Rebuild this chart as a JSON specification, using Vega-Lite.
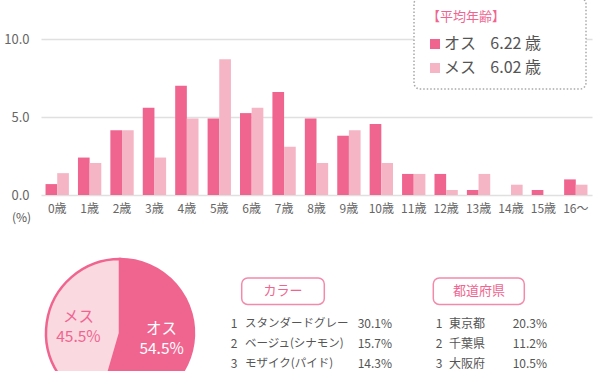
{
  "$schema": "https://vega.github.io/schema/vega-lite/v6.json",
  "padding": {"left": 3, "top": -3, "right": 0, "bottom": 0},
  "background": "white",
  "config": {"font": "Noto Sans CJK JP", "view": {"stroke": null}},
  "bounds": "flush",
  "spacing": 64,
  "resolve": {"scale": {"color": "independent"}},
  "datasets": {
    "ages": [
      {"age": "0歳", "sex": "オス", "pct": 0.7}, {"age": "0歳", "sex": "メス", "pct": 1.4},
      {"age": "1歳", "sex": "オス", "pct": 2.4}, {"age": "1歳", "sex": "メス", "pct": 2.05},
      {"age": "2歳", "sex": "オス", "pct": 4.15}, {"age": "2歳", "sex": "メス", "pct": 4.15},
      {"age": "3歳", "sex": "オス", "pct": 5.6}, {"age": "3歳", "sex": "メス", "pct": 2.4},
      {"age": "4歳", "sex": "オス", "pct": 7.0}, {"age": "4歳", "sex": "メス", "pct": 4.9},
      {"age": "5歳", "sex": "オス", "pct": 4.9}, {"age": "5歳", "sex": "メス", "pct": 8.7},
      {"age": "6歳", "sex": "オス", "pct": 5.25}, {"age": "6歳", "sex": "メス", "pct": 5.6},
      {"age": "7歳", "sex": "オス", "pct": 6.6}, {"age": "7歳", "sex": "メス", "pct": 3.1},
      {"age": "8歳", "sex": "オス", "pct": 4.9}, {"age": "8歳", "sex": "メス", "pct": 2.05},
      {"age": "9歳", "sex": "オス", "pct": 3.8}, {"age": "9歳", "sex": "メス", "pct": 4.15},
      {"age": "10歳", "sex": "オス", "pct": 4.55}, {"age": "10歳", "sex": "メス", "pct": 2.05},
      {"age": "11歳", "sex": "オス", "pct": 1.35}, {"age": "11歳", "sex": "メス", "pct": 1.35},
      {"age": "12歳", "sex": "オス", "pct": 1.35}, {"age": "12歳", "sex": "メス", "pct": 0.32},
      {"age": "13歳", "sex": "オス", "pct": 0.32}, {"age": "13歳", "sex": "メス", "pct": 1.35},
      {"age": "14歳", "sex": "オス", "pct": 0}, {"age": "14歳", "sex": "メス", "pct": 0.66},
      {"age": "15歳", "sex": "オス", "pct": 0.32}, {"age": "15歳", "sex": "メス", "pct": 0},
      {"age": "16〜", "sex": "オス", "pct": 1.0}, {"age": "16〜", "sex": "メス", "pct": 0.66}
    ],
    "sexes": [
      {"sex": "オス", "share": 0.545},
      {"sex": "メス", "share": 0.455}
    ],
    "colors": [
      {"rank": 1, "name": "スタンダードグレー", "pct": 0.301},
      {"rank": 2, "name": "ベージュ(シナモン)", "pct": 0.157},
      {"rank": 3, "name": "モザイク(パイド)", "pct": 0.143}
    ],
    "prefs": [
      {"rank": 1, "name": "東京都", "pct": 0.203},
      {"rank": 2, "name": "千葉県", "pct": 0.112},
      {"rank": 3, "name": "大阪府", "pct": 0.105}
    ]
  },
  "vconcat": [
    {
      "width": 551,
      "height": 156,
      "data": {"name": "ages"},
      "mark": {"type": "bar"},
      "encoding": {
        "x": {
          "field": "age", "type": "nominal", "sort": null,
          "scale": {"paddingInner": 0.28, "paddingOuter": 0.14},
          "axis": {"title": null, "labelAngle": 0, "domain": false, "ticks": false, "labelPadding": 8, "labelFontSize": 12, "labelColor": "#666666"}
        },
        "xOffset": {"field": "sex", "type": "nominal", "scale": {"paddingInner": 0, "paddingOuter": 0}},
        "y": {
          "field": "pct", "type": "quantitative",
          "scale": {"domain": [0, 10], "nice": false},
          "axis": {
            "values": [0, 5, 10], "format": ".1f", "domain": false, "ticks": false,
            "labelPadding": 12, "labelFontSize": 13, "labelColor": "#666666",
            "gridColor": "#e0e0e0", "gridWidth": 1.5,
            "title": "(%)", "titleAngle": 0, "titleX": -20, "titleY": 178,
            "titleAlign": "center", "titleBaseline": "middle", "titleFontSize": 12,
            "titleFontWeight": "normal", "titleColor": "#555555"
          }
        },
        "color": {
          "field": "sex", "type": "nominal",
          "scale": {"domain": ["オス", "メス"], "range": ["#f06590", "#f5b5c5"]},
          "legend": {
            "title": "【平均年齢】", "orient": "none", "legendX": 373, "legendY": -41,
            "padding": 13, "fillColor": "white", "strokeColor": "#a8a8a8",
            "cornerRadius": 6,
            "titleColor": "#f06590", "titleFontSize": 13, "titleFontWeight": "normal", "titlePadding": 12,
            "symbolType": "square", "symbolSize": 100, "symbolStrokeWidth": 0, "symbolOpacity": 1,
            "labelFontSize": 16, "labelColor": "#555555", "labelOffset": 1, "rowPadding": 8, "labelLimit": 300,
            "labelExpr": "datum.label === 'オス' ? 'オス\u00a0\u00a0\u00a0\u00a06.22 歳\u00a0\u00a0⠀⠀' : 'メス\u00a0\u00a0\u00a0\u00a06.02 歳\u00a0\u00a0⠀⠀'",
            "encode": {"legend": {"update": {"strokeDash": {"value": [1.5, 2]}, "strokeWidth": {"value": 1.5}}}}
          }
        }
      }
    },
    {
      "bounds": "flush",
      "spacing": 0,
      "hconcat": [
        {
          "width": 158,
          "height": 148,
          "data": {"name": "sexes"},
          "layer": [
            {
              "mark": {"type": "arc", "outerRadius": 74, "stroke": "#f06590", "strokeWidth": 2.5},
              "encoding": {
                "theta": {"field": "share", "type": "quantitative", "stack": true},
                "order": {"field": "sex", "type": "ordinal"},
                "color": {"field": "sex", "type": "nominal", "scale": {"domain": ["オス", "メス"], "range": ["#f06590", "#fbd9e1"]}, "legend": null}
              }
            },
            {
              "mark": {"type": "text", "radius": 42, "dy": -10, "fontSize": 15.5},
              "encoding": {
                "theta": {"field": "share", "type": "quantitative", "stack": true},
                "order": {"field": "sex", "type": "ordinal"},
                "detail": {"field": "sex", "type": "nominal"},
                "text": {"field": "sex", "type": "nominal"},
                "color": {"condition": {"test": "datum.sex === 'オス'", "value": "white"}, "value": "#f06590"}
              }
            },
            {
              "mark": {"type": "text", "radius": 42, "dy": 10, "fontSize": 15.5},
              "encoding": {
                "theta": {"field": "share", "type": "quantitative", "stack": true},
                "order": {"field": "sex", "type": "ordinal"},
                "detail": {"field": "sex", "type": "nominal"},
                "text": {"field": "share", "type": "quantitative", "format": ".1%"},
                "color": {"condition": {"test": "datum.sex === 'オス'", "value": "white"}, "value": "#f06590"}
              }
            }
          ]
        },
        {
          "width": 210,
          "height": 148,
          "layer": [
            {
              "data": {"values": [{"title": "カラー"}]},
              "mark": {"type": "rect", "cornerRadius": 6, "fill": "white", "stroke": "#f38aab", "strokeWidth": 1.5},
              "encoding": {
                "x": {"datum": 42.7, "type": "quantitative", "scale": {"domain": [0, 210]}, "axis": null},
                "x2": {"datum": 125.3},
                "y": {"datum": -1.25, "type": "quantitative", "scale": {"domain": [-2.18, 5.09], "reverse": true}, "axis": null},
                "y2": {"datum": 0.05}
              }
            },
            {
              "data": {"values": [{"title": "カラー"}]},
              "mark": {"type": "text", "fontSize": 13, "color": "#f06590"},
              "encoding": {
                "x": {"datum": 84, "type": "quantitative", "scale": {"domain": [0, 210]}, "axis": null},
                "y": {"datum": -0.6, "type": "quantitative", "scale": {"domain": [-2.18, 5.09], "reverse": true}, "axis": null},
                "text": {"field": "title", "type": "nominal"}
              }
            },
            {
              "data": {"name": "colors"},
              "mark": {"type": "text", "fontSize": 12, "color": "#555555", "align": "center"},
              "encoding": {
                "x": {"datum": 35, "type": "quantitative", "scale": {"domain": [0, 210]}, "axis": null},
                "y": {"field": "rank", "type": "quantitative", "scale": {"domain": [-2.18, 5.09], "reverse": true}, "axis": null},
                "text": {"field": "rank", "type": "quantitative"}
              }
            },
            {
              "data": {"name": "colors"},
              "mark": {"type": "text", "fontSize": 11.5, "color": "#555555", "align": "left"},
              "encoding": {
                "x": {"datum": 46, "type": "quantitative", "scale": {"domain": [0, 210]}, "axis": null},
                "y": {"field": "rank", "type": "quantitative", "scale": {"domain": [-2.18, 5.09], "reverse": true}, "axis": null},
                "text": {"field": "name", "type": "nominal"}
              }
            },
            {
              "data": {"name": "colors"},
              "mark": {"type": "text", "fontSize": 12, "color": "#555555", "align": "right"},
              "encoding": {
                "x": {"datum": 193, "type": "quantitative", "scale": {"domain": [0, 210]}, "axis": null},
                "y": {"field": "rank", "type": "quantitative", "scale": {"domain": [-2.18, 5.09], "reverse": true}, "axis": null},
                "text": {"field": "pct", "type": "quantitative", "format": ".1%"}
              }
            }
          ]
        },
        {
          "width": 185,
          "height": 148,
          "layer": [
            {
              "data": {"values": [{"title": "都道府県"}]},
              "mark": {"type": "rect", "cornerRadius": 6, "fill": "white", "stroke": "#f38aab", "strokeWidth": 1.5},
              "encoding": {
                "x": {"datum": 24.3, "type": "quantitative", "scale": {"domain": [0, 185]}, "axis": null},
                "x2": {"datum": 115.3},
                "y": {"datum": -1.25, "type": "quantitative", "scale": {"domain": [-2.18, 5.09], "reverse": true}, "axis": null},
                "y2": {"datum": 0.05}
              }
            },
            {
              "data": {"values": [{"title": "都道府県"}]},
              "mark": {"type": "text", "fontSize": 13, "color": "#f06590"},
              "encoding": {
                "x": {"datum": 70, "type": "quantitative", "scale": {"domain": [0, 185]}, "axis": null},
                "y": {"datum": -0.6, "type": "quantitative", "scale": {"domain": [-2.18, 5.09], "reverse": true}, "axis": null},
                "text": {"field": "title", "type": "nominal"}
              }
            },
            {
              "data": {"name": "prefs"},
              "mark": {"type": "text", "fontSize": 12, "color": "#555555", "align": "center"},
              "encoding": {
                "x": {"datum": 30, "type": "quantitative", "scale": {"domain": [0, 185]}, "axis": null},
                "y": {"field": "rank", "type": "quantitative", "scale": {"domain": [-2.18, 5.09], "reverse": true}, "axis": null},
                "text": {"field": "rank", "type": "quantitative"}
              }
            },
            {
              "data": {"name": "prefs"},
              "mark": {"type": "text", "fontSize": 12, "color": "#555555", "align": "left"},
              "encoding": {
                "x": {"datum": 40, "type": "quantitative", "scale": {"domain": [0, 185]}, "axis": null},
                "y": {"field": "rank", "type": "quantitative", "scale": {"domain": [-2.18, 5.09], "reverse": true}, "axis": null},
                "text": {"field": "name", "type": "nominal"}
              }
            },
            {
              "data": {"name": "prefs"},
              "mark": {"type": "text", "fontSize": 12, "color": "#555555", "align": "right"},
              "encoding": {
                "x": {"datum": 138, "type": "quantitative", "scale": {"domain": [0, 185]}, "axis": null},
                "y": {"field": "rank", "type": "quantitative", "scale": {"domain": [-2.18, 5.09], "reverse": true}, "axis": null},
                "text": {"field": "pct", "type": "quantitative", "format": ".1%"}
              }
            }
          ]
        }
      ]
    }
  ]
}
